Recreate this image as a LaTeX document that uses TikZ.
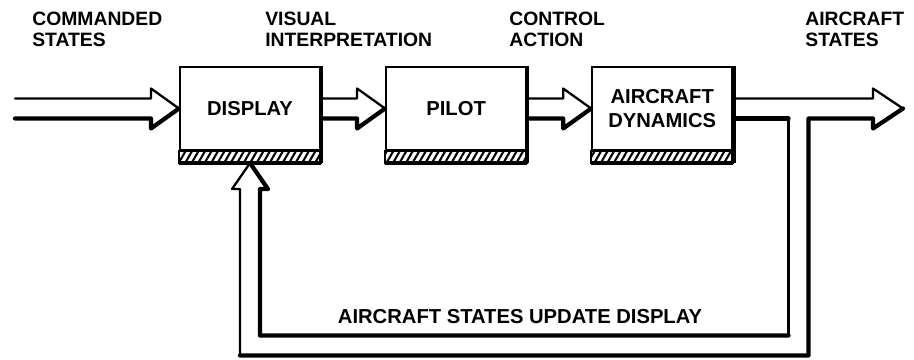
\documentclass[tikz,border=0pt]{standalone}
\usepackage{fontspec}
\setmainfont{Liberation Sans}
\usepackage{tikz}
\usetikzlibrary{positioning, calc, patterns.meta}

\tikzset{
    blk/.style={draw, line width=1.2pt, minimum width=2.8cm, minimum height=1.66cm,
        inner sep=0pt, align=center, font=\bfseries\fontsize{11.5}{14}\selectfont},
    lbl/.style={anchor=north west, align=left, inner sep=0pt,
        font=\bfseries\fontsize{11}{12}\selectfont},
    arrline/.style={line width=1.3pt, line join=round, line cap=round},
    arrshade/.style={line width=2.4pt, line join=round, line cap=round},
    hatch/.style={draw, line width=1.2pt,
        pattern={Lines[angle=60, distance=3.2pt, line width=1.2pt]}},
}

% hollow block arrow: shaft centre #1, tip #2, head length #3
\newcommand{\hollowarrow}[3]{%
    \draw[arrline] ($(#1)+(0,.2)$) -- ($(#2)+(-#3,.2)$) -- ++(0,.2) -- (#2);
    \draw[arrshade] (#2) -- ($(#2)+(-#3,-.4)$) -- ++(0,.2) -- ($(#1)+(0,-.2)$);
}

\begin{document}
\begin{tikzpicture}
\useasboundingbox (0,0) rectangle (18.28,-7.2);

% blocks
\node[blk] (disp) at (5,-2.17) {DISPLAY};
\node[blk, right=1.28cm of disp] (pilot) {PILOT};
\node[blk, right=1.28cm of pilot] (dyn) {AIRCRAFT\\DYNAMICS};
\foreach \n in {disp,pilot,dyn} {
    \draw[hatch] (\n.south west) rectangle ($(\n.south east)+(0,-.24)$);
    \draw[line width=2.2pt] ($(\n.south west)+(0,-.24)$) -- ($(\n.south east)+(0,-.24)$);
    \draw[line width=2.6pt] (\n.north east) -- ($(\n.south east)+(0,-.24)$);
}

% signal labels
\node[lbl] (cmd) at (0.64,-0.24) {COMMANDED\\STATES};
\node[lbl] (vis) at (5.3,-0.24) {VISUAL\\INTERPRETATION};
\node[lbl] (ctl) at (10.18,-0.24) {CONTROL\\ACTION};
\node[lbl] (acs) at (16.1,-0.24) {AIRCRAFT\\STATES};
\node[font=\bfseries\fontsize{11.5}{13}\selectfont, inner sep=0pt] (upd) at (10.4,-6.34)
    {AIRCRAFT STATES UPDATE DISPLAY};

% forward path
\coordinate (cin) at (0.3,-2.17);
\coordinate (aout) at (18.06,-2.17);
\hollowarrow{cin}{disp.west}{.56}
\hollowarrow{disp.east}{pilot.west}{.56}
\hollowarrow{pilot.east}{dyn.west}{.56}
\draw[arrline] ($(dyn.east)+(0,.2)$) -- ($(aout)+(-.6,.2)$) -- ++(0,.2) -- (aout);

% feedback loop
\coordinate (fbtip) at ($(disp.south)+(0,-.24)$);
\coordinate (fbb) at ($(fbtip)+(0,-.52)$);
\coordinate (fbc) at (15.97,-6.91);
\coordinate (ir) at ($(fbc)+(-.2,.2)$);
\coordinate (or) at ($(fbc)+(.2,-.2)$);
\coordinate (ol) at ($(fbb)+(-.2,0)$);
\draw[arrshade] ($(dyn.east)+(0,-.2)$) -- ($(ir |- dyn.east)+(0,-.2)$);
\draw[arrline] ($(ir |- dyn.east)+(0,-.2)$) -- (ir);
\draw[arrshade] (ir) -| ($(fbb)+(.2,0)$) -- ($(fbb)+(.36,0)$) -- (fbtip);
\draw[arrline] (fbtip) -- ($(fbb)+(-.36,0)$) -- (ol) -- (ol |- or);
\draw[arrshade] (ol |- or) -- (or) |- ($(aout)+(-.6,-.2)$) -- ($(aout)+(-.6,-.4)$) -- (aout);
\end{tikzpicture}
\end{document}
